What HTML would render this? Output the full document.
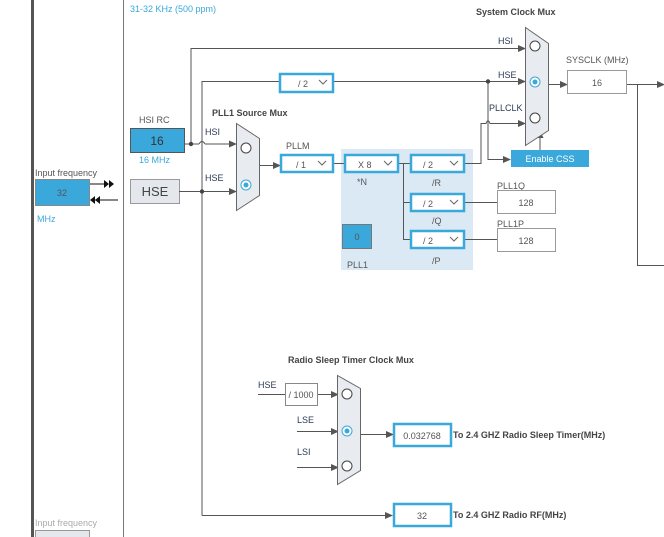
<!DOCTYPE html>
<html><head><meta charset="utf-8"><style>
html,body{margin:0;padding:0;background:#fff;width:664px;height:537px;overflow:hidden}
svg{display:block;font-family:"Liberation Sans",sans-serif}
.l{font-size:9px;fill:#2b3a55}
.b{font-size:9px;font-weight:bold;fill:#444}
.t{font-size:9px;fill:#555}
.bl{font-size:9px;fill:#3aa8db}
</style></head><body>
<svg width="664" height="537" viewBox="0 0 664 537">
<defs>
<marker id="a" markerWidth="8" markerHeight="8" refX="7" refY="4" orient="auto" markerUnits="userSpaceOnUse"><path d="M0,0.5 L8,4 L0,7.5z" fill="#555"/></marker>
</defs>
<rect x="341" y="149" width="132" height="121" fill="#dbe9f5"/>
<!-- left borders -->
<rect x="31" y="0" width="3" height="537" fill="#555"/>
<line x1="123.5" y1="0" x2="123.5" y2="537" stroke="#777" stroke-width="1"/>
<text x="130" y="12" class="bl">31-32 KHz  (500 ppm)</text>

<!-- Input frequency -->
<text x="35" y="176" class="t">Input frequency</text>
<rect x="35.5" y="179.5" width="54" height="26" fill="#3aa8db" stroke="#888"/>
<text x="62" y="196" class="t" text-anchor="middle" font-size="10">32</text>
<text x="37" y="222" class="bl">MHz</text>
<line x1="90" y1="184" x2="108" y2="184" stroke="#111"/>
<path d="M104,180 L109,184 L104,188z M109,180 L114,184 L109,188z" fill="#111"/>
<line x1="95" y1="200" x2="118" y2="200" stroke="#111"/>
<path d="M95,196 L90,200 L95,204z M100,196 L95,200 L100,204z" fill="#111"/>
<text x="35" y="526" font-size="9" fill="#aaa">Input frequency</text>
<rect x="35.5" y="530.5" width="54" height="10" fill="#e4e8ec" stroke="#999"/>

<!-- HSI RC -->
<text x="139" y="123" class="t">HSI RC</text>
<rect x="130.5" y="128.5" width="54" height="24" fill="#3aa8db" stroke="#555"/>
<text x="157" y="145" font-size="12" fill="#333" text-anchor="middle">16</text>
<text x="139" y="163" class="bl">16 MHz</text>
<rect x="130.5" y="179.5" width="49" height="24" fill="#e4e8ec" stroke="#999"/>
<text x="155" y="196" font-size="13" fill="#444" text-anchor="middle">HSE</text>

<!-- wires -->
<g stroke="#555" fill="none" stroke-width="1">
<path d="M184,144 H199 M205,144 H236" marker-end="url(#a)"/>
<path d="M199,144 Q202,139 205,144"/>
<path d="M191,144 V48.5 H525" marker-end="url(#a)"/>
<path d="M202,515.5 V81.5 H280"/>
<path d="M333,81.5 H525" marker-end="url(#a)"/>
<path d="M179,191.5 H236" marker-end="url(#a)"/>
<path d="M202,515.5 H392" marker-end="url(#a)"/>
<path d="M259,165.5 H280" marker-end="url(#a)"/>
<path d="M333,163.5 H344"/>
<path d="M398,163.5 H410"/>
<path d="M403.5,163 V239.5 H410 M403,202.5 H410"/>
<path d="M464,163.5 H481 V123.5 H486 Q488,118 490,123.5 H525" marker-end="url(#a)"/>
<path d="M488,81 V159.5 H510" marker-end="url(#a)"/>
<path d="M464,202.5 H497 M464,239.5 H497"/>
<path d="M540,150 V131" marker-end="url(#a)"/>
<path d="M548,84.5 H567" marker-end="url(#a)"/>
<path d="M626,84.5 H664" marker-end="url(#a)"/>
<path d="M637.5,84.5 V265.5 H664"/>
<path d="M258,394.5 H285 M318,394.5 H338" marker-end="url(#a)"/>
<path d="M297,431.5 H338" marker-end="url(#a)"/>
<path d="M297,467.5 H338" marker-end="url(#a)"/>
<path d="M360,434.5 H393" marker-end="url(#a)"/>
</g>
<circle cx="191" cy="144" r="2.2" fill="#444"/>
<circle cx="202" cy="191.5" r="2.2" fill="#444"/>
<circle cx="488" cy="81.5" r="2.2" fill="#444"/>

<!-- /2 box -->
<rect x="280" y="74" width="53" height="18" fill="#fff" stroke="#3aa8db" stroke-width="2.5"/>
<text x="298" y="87" class="t" font-size="10">/ 2</text>
<path d="M319,80 L323,84 L327,80" stroke="#666" fill="none"/>

<!-- PLL1 source mux -->
<text x="212" y="116" class="b">PLL1 Source Mux</text>
<text x="205" y="135" class="l">HSI</text>
<text x="205" y="181" class="l">HSE</text>
<path d="M236.5,123.5 L259.5,138.5 L259.5,195.5 L236.5,210.5z" fill="#e8ecf0" stroke="#666"/>
<circle cx="246" cy="148" r="5" fill="#fff" stroke="#444"/>
<circle cx="246" cy="185" r="5" fill="#fff" stroke="#3aa8db"/>
<circle cx="246" cy="185" r="2.5" fill="#3aa8db"/>

<!-- PLL -->
<text x="286" y="149" class="t">PLLM</text>
<g fill="#fff" stroke="#3aa8db" stroke-width="2.5">
<rect x="281" y="155" width="52" height="17"/>
<rect x="345" y="155" width="53" height="17"/>
<rect x="411" y="155" width="53" height="17"/>
<rect x="411" y="194" width="53" height="17"/>
<rect x="411" y="231" width="53" height="17"/>
</g>
<g class="t" font-size="10">
<text x="296" y="168">/ 1</text><text x="358" y="168">X 8</text>
<text x="423" y="168">/ 2</text><text x="423" y="207">/ 2</text><text x="423" y="244">/ 2</text>
</g>
<path d="M318,161 L322,165 L326,161 M384,161 L388,165 L392,161 M450,161 L454,165 L458,161 M450,200 L454,204 L458,200 M450,237 L454,241 L458,237" stroke="#666" fill="none"/>
<text x="357" y="185" class="t">*N</text>
<text x="432" y="186" class="t">/R</text>
<text x="432" y="224" class="t">/Q</text>
<text x="432" y="264" class="t">/P</text>
<rect x="342.5" y="224.5" width="29" height="24" fill="#3aa8db" stroke="#777"/>
<text x="357" y="240" class="t" text-anchor="middle">0</text>
<text x="347" y="268" class="t">PLL1</text>
<text x="497" y="189" class="t">PLL1Q</text>
<rect x="497.5" y="190.5" width="58" height="23" fill="#fff" stroke="#999"/>
<text x="526" y="206" class="t" text-anchor="middle">128</text>
<text x="497" y="227" class="t">PLL1P</text>
<rect x="497.5" y="228.5" width="58" height="23" fill="#fff" stroke="#999"/>
<text x="526" y="244" class="t" text-anchor="middle">128</text>

<!-- System clock mux -->
<text x="476" y="15" class="b">System Clock Mux</text>
<text x="498" y="44" class="l">HSI</text>
<text x="498" y="78" class="l">HSE</text>
<text x="489" y="111" class="l">PLLCLK</text>
<path d="M525.5,27.5 L548.5,43.5 L548.5,130.5 L525.5,145.5z" fill="#e8ecf0" stroke="#666"/>
<circle cx="535" cy="46" r="5" fill="#fff" stroke="#444"/>
<circle cx="535" cy="82" r="5" fill="#fff" stroke="#3aa8db"/>
<circle cx="535" cy="82" r="2.5" fill="#3aa8db"/>
<circle cx="535" cy="118" r="5" fill="#fff" stroke="#444"/>
<rect x="511" y="150" width="78" height="17" fill="#3aa8db"/>
<text x="550" y="162" font-size="9" fill="#fff" text-anchor="middle">Enable CSS</text>
<text x="566" y="63" class="t">SYSCLK (MHz)</text>
<rect x="567.5" y="70.5" width="59" height="23" fill="#fff" stroke="#999"/>
<text x="597" y="86" class="t" text-anchor="middle">16</text>

<!-- Radio sleep mux -->
<text x="288" y="363" class="b">Radio Sleep Timer Clock Mux</text>
<text x="258" y="388" class="l">HSE</text>
<rect x="285.5" y="383.5" width="32" height="22" fill="#fff" stroke="#888"/>
<text x="301" y="398" class="t" text-anchor="middle">/ 1000</text>
<text x="297" y="423" class="l">LSE</text>
<text x="297" y="455" class="l">LSI</text>
<path d="M337.5,375.5 L360.5,388.5 L360.5,470.5 L337.5,484.5z" fill="#e8ecf0" stroke="#666"/>
<circle cx="347" cy="394" r="5" fill="#fff" stroke="#444"/>
<circle cx="347" cy="431" r="5" fill="#fff" stroke="#3aa8db"/>
<circle cx="347" cy="431" r="2.5" fill="#3aa8db"/>
<circle cx="347" cy="466" r="5" fill="#fff" stroke="#444"/>
<rect x="394" y="424" width="57" height="22" fill="#fff" stroke="#3aa8db" stroke-width="2.5"/>
<text x="422" y="439" class="t" text-anchor="middle">0.032768</text>
<text x="453" y="438" class="b">To 2.4 GHZ Radio Sleep Timer(MHz)</text>
<rect x="394" y="504" width="57" height="22" fill="#fff" stroke="#3aa8db" stroke-width="2.5"/>
<text x="422" y="519" class="t" text-anchor="middle">32</text>
<text x="453" y="518" class="b">To 2.4 GHZ Radio RF(MHz)</text>
</svg>
</body></html>
